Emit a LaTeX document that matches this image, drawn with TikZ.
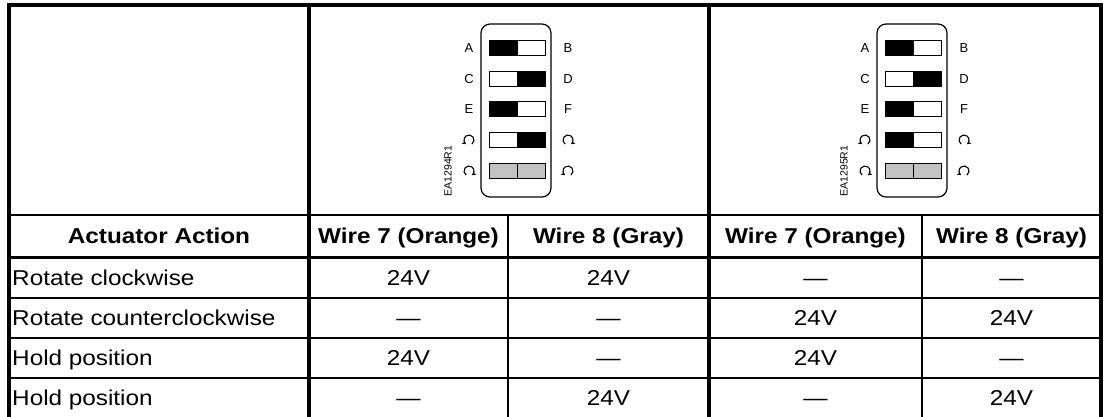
\documentclass[tikz,border=0pt]{standalone}
\usepackage{fontspec}
\setmainfont{Liberation Sans}
\usetikzlibrary{arrows.meta}
\definecolor{swgray}{gray}{0.76}

\begin{document}
\begin{tikzpicture}[x=1pt, y=-1pt,
	cell/.style = {font=\fontsize{21.5}{24}\selectfont, inner sep=0pt, xscale=1.13, text height=15.5pt, text depth=0pt},
	head/.style = {cell, font=\fontsize{21.5}{24}\selectfont\bfseries},
	act/.style = {cell, anchor=west},
	pin/.style = {font=\fontsize{13}{14}\selectfont, inner sep=0pt},
	code/.style = {font=\fontsize{10.5}{11}\selectfont, inner sep=0pt, rotate=90},
	outer/.style = {line width=4pt},
	mid/.style = {line width=2.5pt},
	rule/.style = {line width=1.4pt},
	sw/.style = {draw, line width=1pt},
	turn/.style = {line width=1.1pt, -{Stealth[length=4pt,width=4.5pt]}}]
	\useasboundingbox (0,0) rectangle (1105,417);
	% frame of the table
	\draw[outer] (9,417) -- (9,5) -- (1101,5) -- (1101,417);
	\draw[outer] (309,5) -- (309,417);
	\draw[outer] (709,5) -- (709,417);
	\draw[mid] (9,215) -- (1101,215);
	\draw[line width=3pt] (9,257) -- (1101,257);
	\draw[rule] (508,215) -- (508,417);
	\draw[rule] (922,215) -- (922,417);
	\draw[rule] (9,298) -- (1101,298);
	\draw[rule] (9,338) -- (1101,338);
	\draw[rule] (9,378) -- (1101,378);
	% header
	\node[head] (h0) at (159,236) {Actuator Action};
	\node[head] (h1) at (408.5,236) {Wire 7 (Orange)};
	\node[head] (h2) at (608.5,236) {Wire 8 (Gray)};
	\node[head] (h3) at (815.5,236) {Wire 7 (Orange)};
	\node[head] (h4) at (1011.5,236) {Wire 8 (Gray)};
	% rows
	\foreach \r/\y/\t/\a/\b/\c/\d in {
		1/277.5/Rotate clockwise/24V/24V/—/—,
		2/318/Rotate counterclockwise/—/—/24V/24V,
		3/358/Hold position/24V/—/24V/—,
		4/397.5/Hold position/—/24V/—/24V} {
		\node[act] (act\r) at (12,\y) {\t};
		\node[cell] (w\r a) at (408.5,\y) {\a};
		\node[cell] (w\r b) at (608.5,\y) {\b};
		\node[cell] (w\r c) at (815.5,\y) {\c};
		\node[cell] (w\r d) at (1011.5,\y) {\d};
	}
	% switch blocks
	\foreach \g/\dx/\lab/\fa/\fb in {one/0/EA1294R1/white/black, two/396/EA1295R1/black/white} {
		\begin{scope}[xshift=\dx pt]
			\draw[line width=1.2pt, rounded corners=9pt] (481,24) rectangle (551,197);
			\node[code] (code\g) at (448,171) {\lab};
			\foreach \k/\y/\p/\q in {1/48/black/white, 2/79/white/black,
				3/109/black/white, 4/140/\fa/\fb, 5/171/swgray/swgray} {
				\draw[sw, fill=\p] (489,\y-7.5) rectangle (517,\y+7.5);
				\draw[sw, fill=\q] (517,\y-7.5) rectangle (545,\y+7.5);
			}
			\node[pin] (A\g) at (469,48) {A};
			\node[pin] (B\g) at (568,48) {B};
			\node[pin] (C\g) at (469,79) {C};
			\node[pin] (D\g) at (568,79) {D};
			\node[pin] (E\g) at (469,109) {E};
			\node[pin] (F\g) at (568,109) {F};
			% turn marks
			\draw[turn] (469,140) ++(305:5pt) arc[start angle=-55, end angle=235, radius=5pt];
			\draw[turn] (568,140) ++(235:5pt) arc[start angle=235, end angle=-55, radius=5pt];
			\draw[turn] (469,171) ++(235:5pt) arc[start angle=235, end angle=-55, radius=5pt];
			\draw[turn] (568,171) ++(305:5pt) arc[start angle=-55, end angle=235, radius=5pt];
		\end{scope}
	}
\end{tikzpicture}
\end{document}
